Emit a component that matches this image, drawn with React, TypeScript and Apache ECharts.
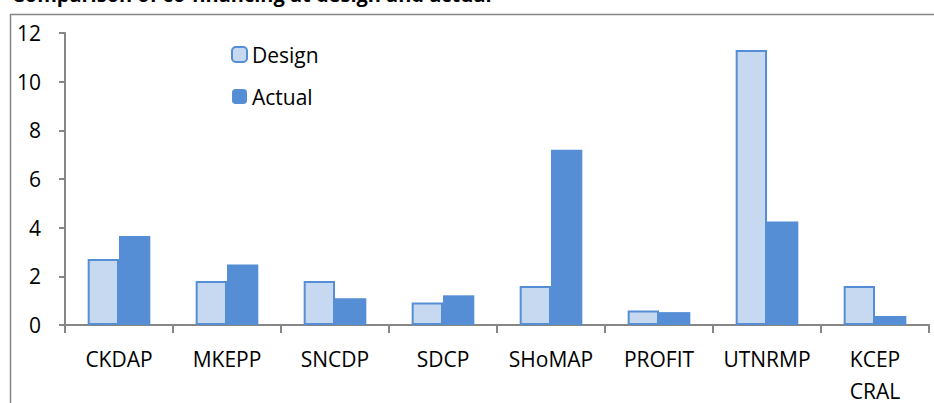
import React, { useEffect, useRef } from "react";
import * as echarts from "echarts";

const categories = ["CKDAP", "MKEPP", "SNCDP", "SDCP", "SHoMAP", "PROFIT", "UTNRMP", "KCEP\nCRAL"];
const designValues = [2.71, 1.81, 1.81, 0.92, 1.6, 0.6, 11.3, 1.6];
const actualValues = [3.66, 2.49, 1.1, 1.22, 7.2, 0.53, 4.25, 0.37];
const seriesNames = ["Design", "Actual"];
const titleText = "Comparison of co-financing at design and actual";

const FONT = "'Open Sans', sans-serif";
const AXIS_GRAY = "#868686";

export default function App() {
  const ref = useRef<HTMLDivElement>(null);
  useEffect(() => {
    if (!ref.current) return;
    const chart = echarts.init(ref.current, undefined, { renderer: "svg" });
    chart.setOption({
      animation: false,
      backgroundColor: "#ffffff",
      textStyle: { fontFamily: FONT },
      graphic: [
        {
          type: "rect",
          shape: { x: 10.5, y: 14.5, width: 960, height: 420 },
          style: { fill: "none", stroke: AXIS_GRAY, lineWidth: 1.5 },
          silent: true,
        },
        {
          type: "text",
          x: 12,
          y: 4,
          style: {
            text: titleText,
            font: "bold 20px 'Open Sans', sans-serif",
            fill: "#000",
            verticalAlign: "bottom",
          },
          silent: true,
        },
      ],
      legend: {
        orient: "vertical",
        left: 226,
        top: 39,
        itemWidth: 15,
        itemHeight: 15,
        itemGap: 21,
        data: seriesNames,
        textStyle: { fontFamily: FONT, fontSize: 21, color: "#000" },
      },
      grid: { left: 65, right: 5, top: 33, bottom: 78, containLabel: false, outerBoundsMode: "none" },
      xAxis: {
        type: "category",
        data: categories,
        axisLine: { lineStyle: { color: AXIS_GRAY, width: 2 } },
        axisTick: { show: true, length: 8, lineStyle: { color: AXIS_GRAY, width: 2 } },
        axisLabel: { fontFamily: FONT, fontSize: 21, color: "#000", margin: 18, lineHeight: 32, interval: 0 },
      },
      yAxis: {
        type: "value",
        min: 0,
        max: 12,
        interval: 2,
        splitLine: { show: false },
        axisLine: { show: true, lineStyle: { color: AXIS_GRAY, width: 2 } },
        axisTick: { show: true, length: 6, lineStyle: { color: AXIS_GRAY, width: 2 } },
        axisLabel: { fontFamily: FONT, fontSize: 21, color: "#000", margin: 24 },
      },
      series: [
        {
          name: seriesNames[0],
          type: "bar",
          data: designValues,
          barGap: "0%",
          barCategoryGap: "42%",
          itemStyle: { color: "#C6D9F1", borderColor: "#558ED5", borderWidth: 2 },
        },
        {
          name: seriesNames[1],
          type: "bar",
          data: actualValues,
          barGap: "0%",
          barCategoryGap: "42%",
          itemStyle: { color: "#558ED5" },
        },
      ],
    });
    return () => chart.dispose();
  }, []);
  return (
    <div
      ref={ref}
      style={{ position: "fixed", left: 0, top: 0, width: 934, height: 403 }}
    />
  );
}
